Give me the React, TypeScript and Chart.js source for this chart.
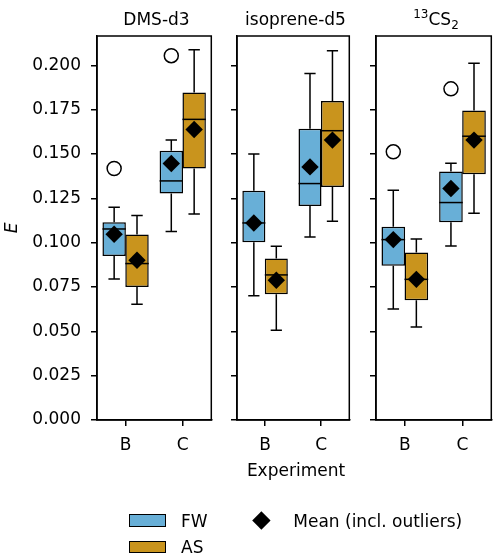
import React, { useEffect, useRef } from 'react';
import { Chart, registerables } from 'chart.js';

Chart.register(...registerables);

const EXPERIMENTS = ['B', 'C'];
const Y_MIN = 0;
const Y_MAX = 0.2165;
const Y_STEP = 0.025;

// values indexed [panel][experiment]; panels: DMS-d3, isoprene-d5, 13CS2
const FW_MIN = [[0.0795, 0.1063], [0.0701, 0.1032], [0.0626, 0.0981]];
const FW_Q1 = [[0.0925, 0.1277], [0.1002, 0.1207], [0.0869, 0.1115]];
const FW_MED = [[0.1077, 0.1348], [0.1111, 0.1333], [0.1017, 0.1226]];
const FW_Q3 = [[0.1115, 0.1518], [0.1292, 0.1642], [0.1089, 0.1401]];
const FW_MAX = [[0.12, 0.1578], [0.15, 0.1954], [0.1296, 0.1448]];
const FW_MEAN = [[0.1047, 0.1446], [0.1111, 0.1427], [0.1017, 0.1305]];
const FW_OUTLIERS = [[[0.1418], [0.2054]], [[], []], [[0.1512], [0.1867]]];

const AS_MIN = [[0.0652, 0.1162], [0.0506, 0.1121], [0.0524, 0.1166]];
const AS_Q1 = [[0.075, 0.1418], [0.0709, 0.1313], [0.0675, 0.1386]];
const AS_MED = [[0.0882, 0.1695], [0.0818, 0.1631], [0.0793, 0.16]];
const AS_Q3 = [[0.1046, 0.1847], [0.091, 0.1798], [0.0944, 0.1745]];
const AS_MAX = [[0.1153, 0.2088], [0.098, 0.2082], [0.1021, 0.2011]];
const AS_MEAN = [[0.0901, 0.1638], [0.0788, 0.1578], [0.0793, 0.1578]];
const AS_OUTLIERS = [[[], []], [[], []], [[], []]];

const FONT = 'DejaVu Sans';
const FS = 17;
const LW = 1.5;
const BLUE = '#68AFD7';
const GOLD = '#C9941D';

const GROUPS = [
  { name: 'FW', color: BLUE, offset: -0.2, min: FW_MIN, q1: FW_Q1, med: FW_MED, q3: FW_Q3, max: FW_MAX, mean: FW_MEAN, out: FW_OUTLIERS },
  { name: 'AS', color: GOLD, offset: 0.2, min: AS_MIN, q1: AS_Q1, med: AS_MED, q3: AS_Q3, max: AS_MAX, mean: AS_MEAN, out: AS_OUTLIERS },
];

// panel canvas geometry
const PANELS = [
  { left: 0, width: 220, padL: 0, padR: 4, yWidth: 97 },
  { left: 226, width: 132, padL: 4, padR: 3.5, yWidth: 7 },
  { left: 365, width: 135, padL: 4, padR: 5, yWidth: 7 },
];
const CANVAS_H = 470;
const PLOT_TOP = 36;
const X_AXIS_H = 50;
const BOX_HALF = 0.205;
const CAP_HALF = 0.1;

function Panel({ p }: { p: number }) {
  const ref = useRef<HTMLCanvasElement>(null);
  useEffect(() => {
    const canvas = ref.current!;
    const geo = PANELS[p];
    const plugin = {
      id: 'boxParts' + p,
      beforeDatasetsDraw(chart: any) {
        const xs = chart.scales.x, ys = chart.scales.y, ctx = chart.ctx;
        ctx.save();
        ctx.strokeStyle = '#000';
        ctx.lineWidth = LW;
        ctx.lineCap = 'butt';
        GROUPS.forEach((g) => {
          EXPERIMENTS.forEach((_, e) => {
            const c = e + g.offset;
            const cx = xs.getPixelForValue(c);
            const cl = xs.getPixelForValue(c - CAP_HALF);
            const cr = xs.getPixelForValue(c + CAP_HALF);
            const yMax = ys.getPixelForValue(g.max[p][e]);
            const yMin = ys.getPixelForValue(g.min[p][e]);
            const yQ1 = ys.getPixelForValue(g.q1[p][e]);
            const yQ3 = ys.getPixelForValue(g.q3[p][e]);
            ctx.beginPath();
            ctx.moveTo(cx, yQ3); ctx.lineTo(cx, yMax);
            ctx.moveTo(cl, yMax); ctx.lineTo(cr, yMax);
            ctx.moveTo(cx, yQ1); ctx.lineTo(cx, yMin);
            ctx.moveTo(cl, yMin); ctx.lineTo(cr, yMin);
            ctx.stroke();
          });
        });
        ctx.restore();
      },
      afterDatasetDraw(chart: any, args: any) {
        if (args.index > 1) return;
        const g = GROUPS[args.index];
        const xs = chart.scales.x, ys = chart.scales.y, ctx = chart.ctx;
        ctx.save();
        ctx.strokeStyle = '#000';
        ctx.lineWidth = LW;
        EXPERIMENTS.forEach((_, e) => {
          const c = e + g.offset;
          const x1 = xs.getPixelForValue(c - BOX_HALF);
          const x2 = xs.getPixelForValue(c + BOX_HALF);
          const y = ys.getPixelForValue(g.med[p][e]);
          ctx.beginPath();
          ctx.moveTo(x1, y); ctx.lineTo(x2, y);
          ctx.stroke();
        });
        ctx.restore();
      },
      afterDraw(chart: any) {
        const a = chart.chartArea, ctx = chart.ctx;
        ctx.save();
        ctx.strokeStyle = '#000';
        ctx.lineWidth = LW;
        ctx.strokeRect(a.left, a.top, a.right - a.left, a.bottom - a.top);
        ctx.restore();
      },
    };

    const datasets: any[] = [];
    GROUPS.forEach((g) => {
      datasets.push({
        type: 'bar',
        label: g.name,
        data: EXPERIMENTS.map((_, e) => ({ x: e + g.offset, y: [g.q1[p][e], g.q3[p][e]] })),
        backgroundColor: g.color,
        borderColor: '#000',
        borderWidth: LW,
        borderSkipped: false,
        grouped: false,
        categoryPercentage: 1,
        barPercentage: (2 * BOX_HALF) / 0.4,
        order: 3,
      });
    });
    GROUPS.forEach((g) => {
      datasets.push({
        type: 'scatter',
        label: g.name + ' mean',
        data: EXPERIMENTS.map((_, e) => ({ x: e + g.offset, y: g.mean[p][e] })),
        pointStyle: 'rectRot',
        pointRadius: 8.7,
        backgroundColor: '#000',
        borderColor: '#000',
        borderWidth: 0,
        order: 1,
      });
      const outs: any[] = [];
      EXPERIMENTS.forEach((_, e) => g.out[p][e].forEach((v: number) => outs.push({ x: e + g.offset, y: v })));
      datasets.push({
        type: 'scatter',
        label: g.name + ' outliers',
        data: outs,
        pointStyle: 'circle',
        pointRadius: 7,
        backgroundColor: '#fff',
        borderColor: '#000',
        borderWidth: 1.5,
        order: 1,
      });
    });

    const chart = new Chart(canvas, {
      type: 'bar',
      data: { datasets },
      plugins: [plugin],
      options: {
        responsive: false,
        animation: false,
        events: [],
        layout: { padding: { top: PLOT_TOP, left: geo.padL, right: geo.padR, bottom: 0 } },
        plugins: { legend: { display: false }, tooltip: { enabled: false }, title: { display: false } },
        scales: {
          x: {
            type: 'linear',
            min: -0.5,
            max: 1.5,
            offset: false,
            position: 'bottom',
            grid: { offset: false, drawOnChartArea: false, drawTicks: true, tickLength: 6, color: '#000', lineWidth: LW },
            border: { display: true, color: '#000', width: LW },
            ticks: {
              color: '#000',
              font: { family: FONT, size: FS },
              padding: 9,
              maxRotation: 0,
              autoSkip: false,
              callback: (v: any) => EXPERIMENTS[Math.round(Number(v))] ?? '',
            },
            afterBuildTicks: (s: any) => { s.ticks = EXPERIMENTS.map((_, i) => ({ value: i })); },
            afterFit: (s: any) => { s.height = X_AXIS_H; },
          },
          y: {
            type: 'linear',
            position: 'left',
            min: Y_MIN,
            max: Y_MAX,
            grid: { drawOnChartArea: false, drawTicks: true, tickLength: 6, color: '#000', lineWidth: LW },
            border: { display: true, color: '#000', width: LW },
            ticks: {
              display: p === 0,
              stepSize: Y_STEP,
              includeBounds: false,
              color: '#000',
              font: { family: FONT, size: FS },
              padding: 10,
              callback: (v: any) => Number(v).toFixed(3),
            },
            title: { display: p === 0, text: 'E', color: '#000', font: { family: FONT, size: FS, style: 'italic' }, padding: { top: 2, bottom: 0 } },
            afterFit: (s: any) => { s.width = geo.yWidth; },
          },
        },
      } as any,
    });
    return () => chart.destroy();
  }, [p]);
  const geo = PANELS[p];
  return (
    <canvas
      ref={ref}
      width={geo.width}
      height={CANVAS_H}
      style={{ position: 'absolute', left: geo.left, top: 0, width: geo.width, height: CANVAS_H }}
    />
  );
}

const textStyle = (x: number, y: number): React.CSSProperties => ({
  position: 'absolute',
  left: x,
  top: y,
  transform: 'translate(-50%, -50%)',
  fontFamily: FONT,
  fontSize: FS,
  color: '#000',
  whiteSpace: 'nowrap',
  lineHeight: 1,
});

export default function App() {
  return (
    <div style={{ position: 'absolute', left: 0, top: 0, width: 500, height: 559, background: '#fff', overflow: 'hidden' }}>
      {[0, 1, 2].map((p) => <Panel key={p} p={p} />)}
      <div style={textStyle(156.5, 18.5)}>DMS-d3</div>
      <div style={textStyle(295.5, 18.5)}>isoprene-d5</div>
      <div style={textStyle(436, 18.5)}>
        <span style={{ fontSize: 12, position: 'relative', top: -7 }}>13</span>CS
        <span style={{ fontSize: 12, position: 'relative', top: 4 }}>2</span>
      </div>
      <div style={textStyle(296, 470)}>Experiment</div>
      {/* legend */}
      <div style={{ position: 'absolute', left: 129.3, top: 514.3, width: 36.4, height: 12.4, boxSizing: 'border-box', border: '1.3px solid #000', background: BLUE }} />
      <div style={{ ...textStyle(181, 520.5), transform: 'translate(0, -50%)' }}>FW</div>
      <div style={{ position: 'absolute', left: 129.3, top: 540.7, width: 36.4, height: 12.4, boxSizing: 'border-box', border: '1.3px solid #000', background: GOLD }} />
      <div style={{ ...textStyle(181, 547), transform: 'translate(0, -50%)' }}>AS</div>
      <div style={{ position: 'absolute', left: 261 - 6.4, top: 520 - 6.4, width: 12.8, height: 12.8, background: '#000', transform: 'rotate(45deg)' }} />
      <div style={{ ...textStyle(293.3, 520.5), transform: 'translate(0, -50%)' }}>Mean (incl. outliers)</div>
    </div>
  );
}
